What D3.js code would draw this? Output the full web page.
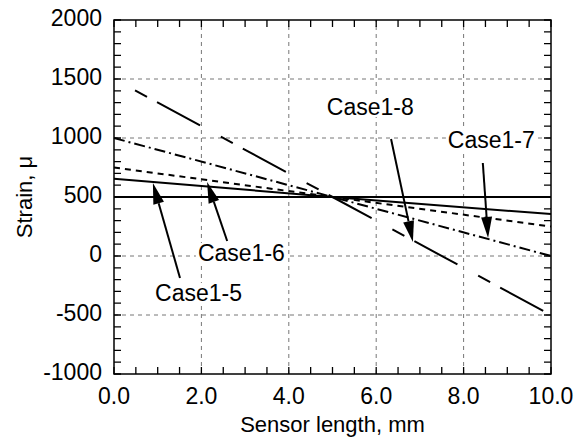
<!DOCTYPE html>
<html>
<head>
<meta charset="utf-8">
<script src="https://cdn.jsdelivr.net/npm/d3@7/dist/d3.min.js"></script>
<style>
  html, body { margin: 0; padding: 0; background: #fff; }
  svg { display: block; font-family: "Liberation Sans", Arial, sans-serif; }
</style>
</head>
<body>
<svg id="chart" width="585" height="442"></svg>
<script>
// Strain distribution along the sensor for each load case
const sensorLength = [0, 5, 10];           // mm
const uniform  = [500, 500, 500];
const case1_5  = [655, 500, 355];
const case1_6  = [750, 500, 250];
const case1_7  = [1000, 500, 0];
const case1_8  = [1500, 500, -500];

const xTicks = [0, 2, 4, 6, 8, 10];
const yTicks = [-1000, -500, 0, 500, 1000, 1500, 2000];

// Callouts: label anchor and arrow (tail -> tip) in data units
const calloutNames = ["Case1-5", "Case1-6", "Case1-7", "Case1-8"];
const calloutText  = [[0.94, -381], [1.92, -42], [7.64, 915], [4.87, 1195]];
const calloutTail  = [[1.51, -186], [2.59, 127], [8.44, 788], [6.34, 992]];
const calloutTip   = [[0.89, 619], [2.13, 627], [8.56, 153], [6.84, 119]];

const margin = { left: 114, right: 34, top: 20, bottom: 68 };
const W = 585, H = 442;
const svg = d3.select("#chart");

const x = d3.scaleLinear().domain([0, 10]).range([margin.left, W - margin.right]);
const y = d3.scaleLinear().domain([-1000, 2000]).range([H - margin.bottom, margin.top]);

const x0 = x.range()[0], x1 = x.range()[1];
const y0 = y.range()[0], y1 = y.range()[1];

// grid
const grid = svg.append("g").attr("stroke", "#777").attr("stroke-width", 1)
  .attr("stroke-dasharray", "4,4").attr("fill", "none");
grid.selectAll("line.gx").data(xTicks.filter(d => d > 0 && d < 10)).join("line")
  .attr("class", "gx")
  .attr("x1", d => x(d)).attr("x2", d => x(d)).attr("y1", y0).attr("y2", y1);
grid.selectAll("line.gy").data(yTicks.filter(d => d > -1000 && d < 2000)).join("line")
  .attr("class", "gy")
  .attr("x1", x0).attr("x2", x1).attr("y1", d => y(d)).attr("y2", d => y(d));

// inward ticks on all four sides (every 0.5 mm and every 100 strain)
const tickLen = 7;
const xMinor = d3.range(0, 10.001, 0.5);
const yMinor = d3.range(-1000, 2000.1, 100);
const tickPath = [];
xMinor.forEach(d => {
  tickPath.push(`M${x(d)},${y0}V${y0 - tickLen}`);
  tickPath.push(`M${x(d)},${y1}V${y1 + tickLen}`);
});
yMinor.forEach(d => {
  tickPath.push(`M${x0},${y(d)}H${x0 + tickLen}`);
  tickPath.push(`M${x1},${y(d)}H${x1 - tickLen}`);
});
svg.append("path").attr("d", tickPath.join(""))
  .attr("fill", "none").attr("stroke", "#000").attr("stroke-width", 1.3);

// tick labels
const tickFmt = d3.format(".1f");
svg.append("g").selectAll("text").data(xTicks).join("text")
  .attr("x", d => x(d)).attr("y", y0 + 30)
  .attr("text-anchor", "middle").attr("font-size", 23).attr("fill", "#000")
  .text(d => tickFmt(d));
svg.append("g").selectAll("text").data(yTicks).join("text")
  .attr("x", x0 - 12).attr("y", d => y(d) + 6)
  .attr("text-anchor", "end").attr("font-size", 23).attr("fill", "#000")
  .text(d => d);

// axis titles
svg.append("text").attr("x", (x0 + x1) / 2).attr("y", 432)
  .attr("text-anchor", "middle").attr("font-size", 22).text("Sensor length, mm");
svg.append("text").attr("transform", `translate(32,${(y0 + y1) / 2}) rotate(-90)`)
  .attr("text-anchor", "middle").attr("font-size", 22).text("Strain, \u03bc");

// series
const seriesList = [
  { v: uniform, dash: null },
  { v: case1_5, dash: null },
  { v: case1_6, dash: "6,5" },
  { v: case1_7, dash: "11,4,2,4" },
  { v: case1_8, dash: "13.6,11.4,48.9,23.6", offset: 73.6 }
];
const line = d3.line().x(d => x(d[0])).y(d => y(d[1]));
const plot = svg.append("g");
seriesList.forEach(s => {
  plot.append("path")
    .datum(sensorLength.map((d, i) => [d, s.v[i]]))
    .attr("d", line)
    .attr("fill", "none").attr("stroke", "#000").attr("stroke-width", 2)
    .attr("stroke-dasharray", s.dash)
    .attr("stroke-dashoffset", s.offset || 0);
});

// callouts
const callouts = svg.append("g");
calloutNames.forEach((name, i) => {
  const [tx, ty] = calloutText[i];
  const t = callouts.append("text")
    .attr("x", x(tx)).attr("y", y(ty))
    .attr("font-size", 23).attr("fill", "#000").text(name);
  const bb = t.node().getBBox();
  callouts.insert("rect", () => t.node())
    .attr("x", bb.x - 2).attr("y", bb.y + 3).attr("width", bb.width + 4).attr("height", bb.height - 6)
    .attr("fill", "#fff");

  const ax0 = x(calloutTail[i][0]), ay0 = y(calloutTail[i][1]);
  const ax1 = x(calloutTip[i][0]),  ay1 = y(calloutTip[i][1]);
  const ang = Math.atan2(ay1 - ay0, ax1 - ax0);
  const headL = 21, headW = 5.5;
  const bx = ax1 - headL * Math.cos(ang), by = ay1 - headL * Math.sin(ang);
  callouts.append("line")
    .attr("x1", ax0).attr("y1", ay0).attr("x2", bx).attr("y2", by)
    .attr("stroke", "#000").attr("stroke-width", 2);
  const px = -Math.sin(ang) * headW, py = Math.cos(ang) * headW;
  callouts.append("path")
    .attr("d", `M${ax1},${ay1}L${bx + px},${by + py}L${bx - px},${by - py}Z`)
    .attr("fill", "#000");
});

// frame
svg.append("rect").attr("x", x0).attr("y", y1).attr("width", x1 - x0).attr("height", y0 - y1)
  .attr("fill", "none").attr("stroke", "#000").attr("stroke-width", 1.5);
</script>
</body>
</html>
